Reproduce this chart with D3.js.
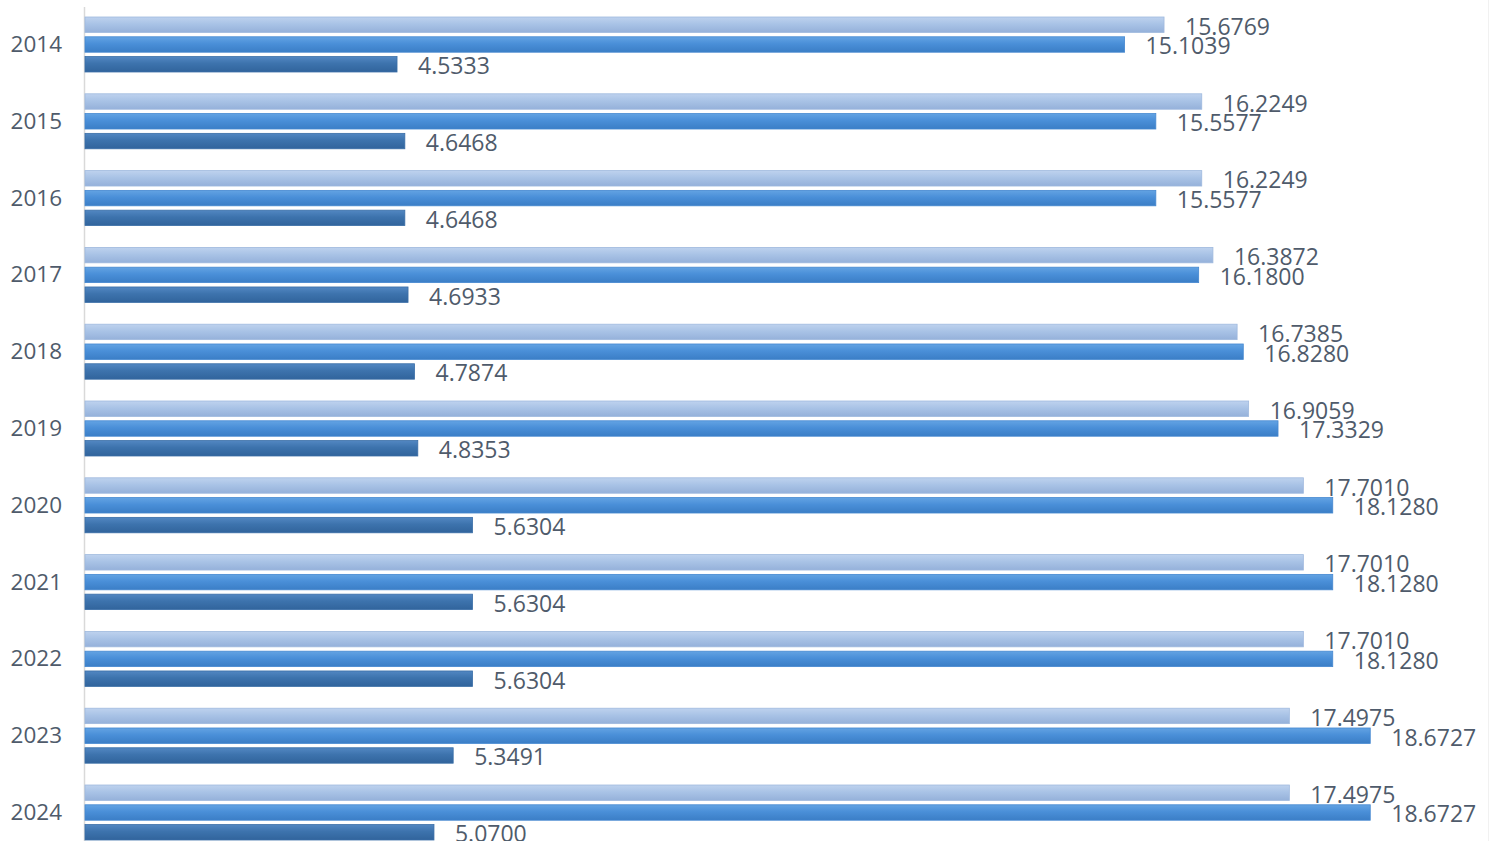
<!DOCTYPE html>
<html>
<head>
<meta charset="utf-8">
<script src="https://cdn.jsdelivr.net/npm/d3@7/dist/d3.min.js"></script>
<style>
  html, body { margin: 0; padding: 0; background: #ffffff; }
  svg { display: block; }
</style>
</head>
<body>
<svg id="chart" width="1496" height="841"></svg>
<script>
// Years shown down the vertical axis
const years = ["2014", "2015", "2016", "2017", "2018", "2019", "2020", "2021", "2022", "2023", "2024"];
// Three series per year, drawn top to bottom within each group
const seriesNames = ["a", "b", "c"];
const seriesA = [15.6769, 16.2249, 16.2249, 16.3872, 16.7385, 16.9059, 17.7010, 17.7010, 17.7010, 17.4975, 17.4975];
const seriesB = [15.1039, 15.5577, 15.5577, 16.1800, 16.8280, 17.3329, 18.1280, 18.1280, 18.1280, 18.6727, 18.6727];
const seriesC = [4.5333, 4.6468, 4.6468, 4.6933, 4.7874, 4.8353, 5.6304, 5.6304, 5.6304, 5.3491, 5.0700];
const xDomain = [0, 20];

const data = years.map((y, i) => ({
  year: y,
  values: [
    { key: "a", value: seriesA[i] },
    { key: "b", value: seriesB[i] },
    { key: "c", value: seriesC[i] }
  ]
}));

const svg = d3.select("#chart");
const W = 1496, H = 841;
const axisX = 85;

const x = d3.scaleLinear().domain(xDomain).range([axisX, axisX + 20 * 68.83]);
const y0 = d3.scaleBand().domain(years).range([17, 840]).paddingInner(0.284).paddingOuter(0);
const y1 = d3.scaleBand().domain(seriesNames).range([0, y0.bandwidth()]).paddingInner(0.22).paddingOuter(0);

// Vertical gradients give each bar a soft bevelled look
const defs = svg.append("defs");
const palette = {
  a: { top: "#bed2ee", mid: "#a9c3e6", bot: "#95b1da", stroke: "#9fb9de" },
  b: { top: "#63a3e3", mid: "#4a8fd8", bot: "#3b7ec6", stroke: "#4588d0" },
  c: { top: "#5287c2", mid: "#3d73ad", bot: "#31649c", stroke: "#3a6ea7" }
};
Object.entries(palette).forEach(([k, c]) => {
  const g = defs.append("linearGradient")
    .attr("id", "grad-" + k)
    .attr("x1", 0).attr("y1", 0).attr("x2", 0).attr("y2", 1);
  g.append("stop").attr("offset", "0%").attr("stop-color", c.top);
  g.append("stop").attr("offset", "45%").attr("stop-color", c.mid);
  g.append("stop").attr("offset", "100%").attr("stop-color", c.bot);
});

// Faint frame line on the right edge
svg.append("line")
  .attr("x1", 1488.5).attr("x2", 1488.5)
  .attr("y1", 0).attr("y2", H)
  .attr("stroke", "#f1f1f1").attr("stroke-width", 1);

// Category axis line
svg.append("line")
  .attr("x1", axisX - 0.5).attr("x2", axisX - 0.5)
  .attr("y1", 7).attr("y2", H)
  .attr("stroke", "#d9d9d9").attr("stroke-width", 1.5);

const groups = svg.append("g")
  .selectAll("g")
  .data(data)
  .join("g")
  .attr("transform", d => `translate(0,${y0(d.year)})`);

groups.selectAll("rect")
  .data(d => d.values)
  .join("rect")
  .attr("x", x(0))
  .attr("y", d => y1(d.key))
  .attr("width", d => x(d.value) - x(0))
  .attr("height", y1.bandwidth())
  .attr("fill", d => `url(#grad-${d.key})`)
  .attr("stroke", d => palette[d.key].stroke)
  .attr("stroke-width", 0.8);

const fmt = d3.format(".4f");
groups.selectAll("text.val")
  .data(d => d.values)
  .join("text")
  .attr("class", "val")
  .attr("x", d => x(d.value) + 21)
  .attr("y", d => y1(d.key) + y1.bandwidth() / 2 + 1)
  .attr("dominant-baseline", "central")
  .attr("font-family", "'Open Sans', sans-serif")
  .attr("font-size", 23)
  .attr("fill", "#4f5b6b")
  .text(d => fmt(d.value));

// Year labels on the left
svg.append("g")
  .selectAll("text")
  .data(years)
  .join("text")
  .attr("x", 62)
  .attr("y", d => y0(d) + y0.bandwidth() / 2 - 1)
  .attr("text-anchor", "end")
  .attr("dominant-baseline", "central")
  .attr("font-family", "'Open Sans', sans-serif")
  .attr("font-size", 22.5)
  .attr("fill", "#4f5b6b")
  .text(d => d);
</script>
</body>
</html>
